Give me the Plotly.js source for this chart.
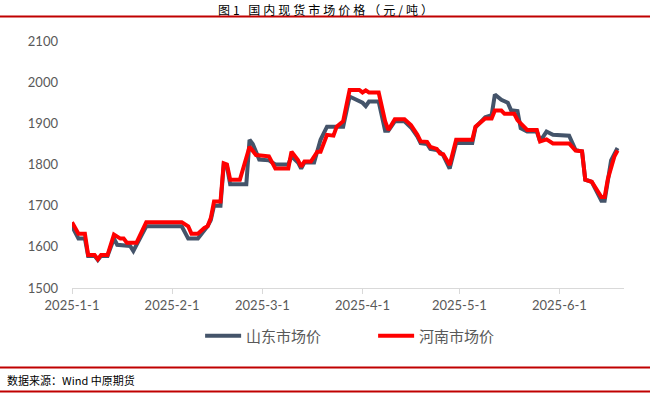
<!DOCTYPE html>
<html>
<head>
<meta charset="utf-8">
<script src="https://cdn.plot.ly/plotly-3.0.1.min.js"></script>
<style>
html,body{margin:0;padding:0;background:#fff;}
#chart{width:650px;height:396px;}
</style>
</head>
<body>
<div id="chart"></div>
<script>
// 山东市场价 (Shandong)
const sdDates = ["2025-01-01","2025-01-03","2025-01-05","2025-01-06","2025-01-08","2025-01-09","2025-01-10","2025-01-12","2025-01-14","2025-01-15","2025-01-19","2025-01-20","2025-01-24","2025-02-04","2025-02-06","2025-02-09","2025-02-12","2025-02-13","2025-02-14","2025-02-16","2025-02-17","2025-02-18","2025-02-19","2025-02-24","2025-02-25","2025-02-26","2025-02-28","2025-03-03","2025-03-05","2025-03-09","2025-03-10","2025-03-12","2025-03-13","2025-03-14","2025-03-17","2025-03-19","2025-03-21","2025-03-26","2025-03-28","2025-03-31","2025-04-01","2025-04-02","2025-04-03","2025-04-06","2025-04-08","2025-04-09","2025-04-11","2025-04-14","2025-04-16","2025-04-18","2025-04-19","2025-04-21","2025-04-22","2025-04-24","2025-04-25","2025-04-26","2025-04-28","2025-04-30","2025-05-05","2025-05-06","2025-05-08","2025-05-09","2025-05-11","2025-05-12","2025-05-14","2025-05-16","2025-05-17","2025-05-19","2025-05-20","2025-05-22","2025-05-25","2025-05-26","2025-05-28","2025-05-30","2025-06-04","2025-06-06","2025-06-08","2025-06-09","2025-06-11","2025-06-12","2025-06-14","2025-06-15","2025-06-16","2025-06-17","2025-06-19"];
const sdValues = [1650,1620,1620,1578,1578,1568,1578,1578,1620,1605,1602,1590,1650,1650,1620,1620,1650,1665,1700,1700,1800,1795,1752,1752,1860,1850,1812,1810,1800,1800,1820,1805,1790,1805,1805,1860,1892,1892,1965,1953,1950,1942,1953,1953,1882,1882,1905,1905,1890,1868,1852,1850,1838,1835,1830,1822,1790,1852,1852,1890,1905,1915,1920,1970,1957,1950,1932,1930,1888,1880,1880,1856,1880,1872,1870,1835,1832,1763,1758,1742,1712,1712,1760,1810,1840];

// 河南市场价 (Henan)
const hnDates = ["2025-01-01","2025-01-03","2025-01-05","2025-01-06","2025-01-08","2025-01-09","2025-01-10","2025-01-12","2025-01-14","2025-01-16","2025-01-17","2025-01-18","2025-01-21","2025-01-24","2025-02-04","2025-02-06","2025-02-07","2025-02-09","2025-02-11","2025-02-12","2025-02-13","2025-02-14","2025-02-16","2025-02-17","2025-02-18","2025-02-19","2025-02-22","2025-02-25","2025-02-27","2025-03-03","2025-03-05","2025-03-09","2025-03-10","2025-03-12","2025-03-13","2025-03-14","2025-03-16","2025-03-18","2025-03-19","2025-03-21","2025-03-23","2025-03-24","2025-03-26","2025-03-28","2025-03-31","2025-04-01","2025-04-02","2025-04-03","2025-04-06","2025-04-07","2025-04-08","2025-04-09","2025-04-10","2025-04-11","2025-04-14","2025-04-16","2025-04-18","2025-04-19","2025-04-21","2025-04-22","2025-04-24","2025-04-25","2025-04-26","2025-04-28","2025-04-30","2025-05-05","2025-05-06","2025-05-08","2025-05-09","2025-05-11","2025-05-12","2025-05-14","2025-05-15","2025-05-18","2025-05-19","2025-05-21","2025-05-22","2025-05-25","2025-05-26","2025-05-28","2025-05-30","2025-06-04","2025-06-06","2025-06-08","2025-06-09","2025-06-11","2025-06-12","2025-06-14","2025-06-15","2025-06-16","2025-06-18","2025-06-19"];
const hnValues = [1660,1632,1632,1580,1580,1570,1580,1580,1630,1620,1620,1610,1610,1660,1660,1650,1632,1632,1646,1650,1670,1710,1710,1803,1800,1763,1763,1843,1823,1820,1790,1790,1831,1811,1795,1807,1807,1831,1831,1872,1870,1892,1905,1981,1981,1975,1980,1975,1975,1935,1905,1884,1896,1910,1910,1896,1872,1856,1855,1843,1838,1827,1825,1799,1860,1860,1892,1904,1912,1912,1931,1931,1923,1923,1908,1892,1884,1884,1856,1861,1851,1851,1834,1832,1763,1758,1745,1721,1721,1765,1819,1834];

const tickDates = ["2025-01-01","2025-02-01","2025-03-01","2025-04-01","2025-05-01","2025-06-01"];
const tickLabels = ["2025-1-1","2025-2-1","2025-3-1","2025-4-1","2025-5-1","2025-6-1"];
const yTicks = [1500,1600,1700,1800,1900,2000,2100];

const titleText = "图1 国内现货市场价格（元/吨）";
const sourceText = "数据来源：Wind 中原期货";

const traces = [
  {x: sdDates, y: sdValues, name: "山东市场价", type: "scatter", mode: "lines",
   line: {color: "#44546A", width: 4}, hoverinfo: "skip"},
  {x: hnDates, y: hnValues, name: "河南市场价", type: "scatter", mode: "lines",
   line: {color: "#FF0000", width: 4}, hoverinfo: "skip"}
];

const L = 72, T = 41, PW = 552, PH = 247;
const px = v => (v - L) / PW;
const py = v => (T + PH - v) / PH;

// spread the title characters a little, like the reference
const spacedTitle = Array.from(titleText).join("\u2005");

const layout = {
  width: 650, height: 396,
  margin: {l: L, r: 650 - L - PW, t: T, b: 396 - T - PH, pad: 0},
  paper_bgcolor: "#fff", plot_bgcolor: "#fff",
  font: {family: "Lato, 'Noto Sans CJK SC', sans-serif", color: "#595959"},
  title: {text: ""},
  xaxis: {type: "date", range: ["2025-01-01", "2025-06-21"],
          tickmode: "array", tickvals: tickDates, ticktext: tickLabels,
          showgrid: false, zeroline: false, showline: true, linecolor: "#D9D9D9", linewidth: 1,
          ticks: "outside", ticklen: 5, tickcolor: "#D9D9D9",
          tickfont: {size: 13, color: "#595959"}, fixedrange: true},
  yaxis: {range: [1500, 2100], tickmode: "array", tickvals: yTicks,
          showgrid: false, zeroline: false, showline: false, ticks: "",
          ticklabelstandoff: 13,
          tickfont: {size: 13, color: "#595959"}, fixedrange: true},
  showlegend: true,
  legend: {orientation: "h", x: 0.5455, xanchor: "center", y: py(336), yanchor: "middle",
           font: {size: 15, color: "#595959", family: "'Noto Sans CJK SC', sans-serif"},
           itemwidth: 36, tracegroupgap: 0, entrywidth: 122, entrywidthmode: "pixels"},
  shapes: [
    {type: "line", xref: "paper", yref: "paper", x0: px(0), x1: px(650), y0: py(16.5), y1: py(16.5),
     line: {color: "#C00000", width: 2}},
    {type: "line", xref: "paper", yref: "paper", x0: px(0), x1: px(650), y0: py(367.5), y1: py(367.5),
     line: {color: "#C00000", width: 2}},
    {type: "line", xref: "paper", yref: "paper", x0: px(0), x1: px(650), y0: py(391.5), y1: py(391.5),
     line: {color: "#C00000", width: 2}}
  ],
  annotations: [
    {text: spacedTitle, xref: "paper", yref: "paper", x: px(325), y: py(9),
     xanchor: "center", yanchor: "middle", showarrow: false,
     font: {family: "'Noto Sans CJK SC', sans-serif", size: 12, color: "#000"}},
    {text: sourceText, xref: "paper", yref: "paper", x: px(5), y: py(379.5),
     xanchor: "left", yanchor: "middle", showarrow: false,
     font: {family: "'Noto Sans CJK SC', sans-serif", size: 11, color: "#000"}}
  ]
};

Plotly.newPlot("chart", traces, layout, {displayModeBar: false, staticPlot: true});
</script>
</body>
</html>
